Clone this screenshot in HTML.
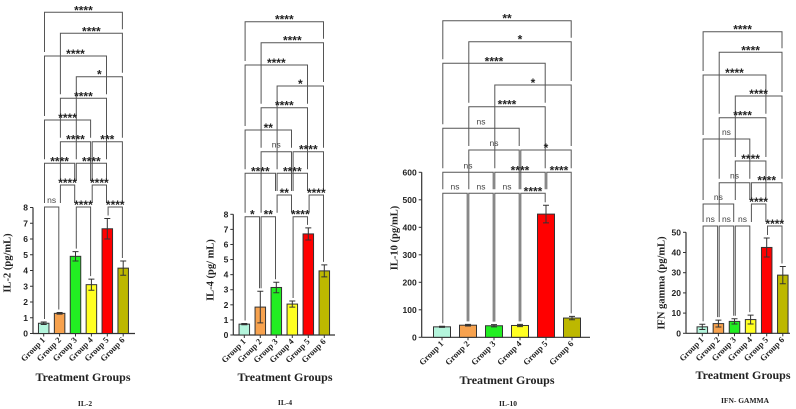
<!DOCTYPE html>
<html><head><meta charset="utf-8">
<style>
html,body{margin:0;padding:0;background:#fff;}
svg{display:block;}
.tk{font-family:"Liberation Sans",sans-serif;font-weight:bold;font-size:8.5px;fill:#222;}
.gl{font-family:"Liberation Serif",serif;font-weight:bold;font-size:8.5px;fill:#222;}
.sig{font-family:"Liberation Sans",sans-serif;font-weight:bold;font-size:12px;fill:#222;}
.ns{font-family:"Liberation Sans",sans-serif;font-size:8.5px;fill:#444;}
.ttl{font-family:"Liberation Serif",serif;font-weight:bold;fill:#222;}
</style></head>
<body>
<svg id="fig" width="796" height="409" viewBox="0 0 796 409" xmlns="http://www.w3.org/2000/svg"></svg>
<script>
const categories = ["Group 1","Group 2","Group 3","Group 4","Group 5","Group 6"];
const colors = ["#b4f5dc","#f7a24e","#22ee22","#ffff22","#ff0000","#bdb800"];

const il2Values = [0.65,1.28,4.9,3.1,6.65,4.15];
const il2Errors = [0.08,0.05,0.3,0.35,0.65,0.45];
const il2Ticks = [0,1,2,3,4,5,6,7,8];
const il2Brackets = [[1,6,12.3,"****"],[2,6,33.3,"****"],[1,5,56,"****"],[3,6,76.7,"*"],[2,5,98.3,"****"],[1,4,120,"****"],[2,4,141.7,"****"],[4,6,141.7,"***"],[1,3,163.3,"****"],[3,5,163.3,"****"],[2,3,185,"****"],[4,5,185,"****"],[1,2,207,"ns"],[3,4,207,"****"],[5,6,207,"****"]];

const il4Values = [0.72,1.85,3.15,2.05,6.7,4.25];
const il4Errors = [0.04,1.05,0.35,0.2,0.4,0.4];
const il4Ticks = [0,1,2,3,4,5,6,7,8];
const il4Brackets = [[1,6,21.7,"****"],[2,6,42.7,"****"],[1,5,65,"****"],[3,6,86,"*"],[2,5,107.7,"****"],[1,4,130,"**"],[2,4,151.7,"ns"],[4,6,151.7,"****"],[1,3,173.3,"****"],[3,5,173.3,"****"],[3,4,195,"**"],[5,6,195,"****"],[1,2,216.7,"*"],[2,3,216.7,"**"],[4,5,216.7,"****"]];

const il10Values = [38,44,42,43,448,70];
const il10Errors = [2,3,4,4,32,6];
const il10Ticks = [0,100,200,300,400,500,600];
const il10Brackets = [[1,6,20.7,"**"],[2,6,41.7,"*"],[1,5,63.3,"****"],[3,6,85,"*"],[2,5,106.7,"****"],[1,4,128.3,"ns"],[2,4,150,"ns"],[4,6,150,"*"],[1,3,172.3,"ns"],[3,5,172.3,"****"],[5,6,172.3,"****"],[1,2,193.3,"ns"],[2,3,193.3,"ns"],[3,4,193.3,"ns"],[4,5,193.3,"****"]];

const ifnValues = [3.2,4.8,5.9,6.8,42.5,28.8];
const ifnErrors = [1.3,1.7,1.3,2.2,4.7,4.3];
const ifnTicks = [0,10,20,30,40,50];
const ifnBrackets = [[1,6,31.7,"****"],[2,6,52.3,"****"],[1,5,75,"****"],[3,6,96,"****"],[2,5,117.7,"****"],[1,4,139,"ns"],[3,5,161,"****"],[2,4,182.7,"ns"],[4,6,182.7,"****"],[1,3,204,"ns"],[4,5,204,"****"],[1,2,226,"ns"],[2,3,226,"ns"],[3,4,226,"ns"],[5,6,226,"****"]];

const NS="http://www.w3.org/2000/svg";
const svg=document.getElementById('fig');
function mk(tag,attrs,parent){const e=document.createElementNS(NS,tag);for(const k in attrs)e.setAttribute(k,attrs[k]);(parent||svg).appendChild(e);return e;}

const panels=[
 {key:"il2",values:il2Values,errors:il2Errors,ticks:il2Ticks,brackets:il2Brackets,axisX:33,y0:333.5,yTop:207.5,max:8,x1:43.7,dx:15.9,bw:10.5,xEnd:135,ytitle:"IL-2 (pg/mL)",ytx:8,yty:263,xtitle:"Treatment Groups",xtx:83,xty:381,title:"IL-2",tx:85,ty:406},
 {key:"il4",values:il4Values,errors:il4Errors,ticks:il4Ticks,brackets:il4Brackets,axisX:233.3,y0:335,yTop:214.3,max:8,x1:244.3,dx:16,bw:10.5,xEnd:335,ytitle:"IL-4 (pg/ mL)",ytx:211,yty:270,xtitle:"Treatment Groups",xtx:285,xty:381,title:"IL-4",tx:285,ty:405},
 {key:"il10",values:il10Values,errors:il10Errors,ticks:il10Ticks,brackets:il10Brackets,axisX:421.7,y0:337.3,yTop:172.3,max:600,x1:442,dx:26,bw:17,xEnd:590,ytitle:"IL-10 (pg/mL)",ytx:395,yty:238,xtitle:"Treatment Groups",xtx:507,xty:384,title:"IL-10",tx:508,ty:406},
 {key:"ifn",values:ifnValues,errors:ifnErrors,ticks:ifnTicks,brackets:ifnBrackets,axisX:686,y0:333.3,yTop:232.3,max:50,x1:702.3,dx:16.1,bw:10.5,xEnd:790,ytitle:"IFN gamma (pg/mL)",ytx:662,yty:283,xtitle:"Treatment Groups",xtx:743,xty:379,title:"IFN- GAMMA",tx:745,ty:403}
];

panels.forEach(p=>{
  const g=mk('g',{});
  
  
  const yS=v=>p.y0-(v/p.max)*(p.y0-p.yTop);
  const xS=i=>p.x1+i*p.dx;
  const ya=mk('line',{x1:p.axisX,y1:p.yTop,x2:p.axisX,y2:p.y0,stroke:"#333","stroke-width":1.2},g);
  
  
  p.ticks.forEach(t=>{
    mk('line',{x1:p.axisX-3,y1:yS(t),x2:p.axisX,y2:yS(t),stroke:"#333","stroke-width":1},g);
    const tt=mk('text',{x:p.axisX-5,y:yS(t)+3,"text-anchor":"end",class:"tk"},g);
    tt.textContent=t;
    
    
  });
  const xa=mk('line',{x1:p.axisX,y1:p.y0,x2:p.xEnd,y2:p.y0,stroke:"#333","stroke-width":1.2},g);
  
  
  p.values.forEach((v,i)=>{
    const x=xS(i), top=yS(v);
    const r=mk('rect',{x:x-p.bw/2,y:top,width:p.bw,height:p.y0-top,fill:colors[i],stroke:"#333","stroke-width":1},g);
    
    
    const e=p.errors[i], hi=yS(v+e), lo=yS(v-e);
    const eb=mk('path',{d:`M${x},${hi}V${lo}M${x-3},${hi}H${x+3}M${x-3},${lo}H${x+3}`,stroke:"#333","stroke-width":1,fill:"none"},g);
    
    
    mk('line',{x1:x,y1:p.y0,x2:x,y2:p.y0+3,stroke:"#333","stroke-width":1},g);
    const lx=x+2, ly=p.y0+7;
    const gl=mk('text',{x:lx,y:ly,"text-anchor":"end",class:"gl",transform:`rotate(-45 ${lx} ${ly})`},g);
    gl.textContent=categories[i];
    
    
  });
  const legBottom=(grp,y)=>{
    let best=null;
    p.brackets.forEach(b=>{ if((b[0]===grp||b[1]===grp)&&b[2]>y&&(best===null||b[2]<best))best=b[2];});
    if(best!==null)return best-4;
    const i=grp-1;return yS(p.values[i]+p.errors[i])-3;
  };
  p.brackets.forEach(b=>{
    const [a,c,y,lab]=b;
    const xa_=xS(a-1)+0.8, xb=xS(c-1)-0.8;
    const br=mk('path',{d:`M${xa_},${legBottom(a,y)}V${y}H${xb}V${legBottom(c,y)}`,stroke:"#555","stroke-width":1,fill:"none"},g);
    
    
    const isNs=lab==="ns";
    const t=mk('text',{x:(xa_+xb)/2,y:isNs?y-4:y+2,"text-anchor":"middle",class:isNs?"ns":"sig"},g);
    t.textContent=lab;
    
    
  });
  const yt=mk('text',{x:p.ytx,y:p.yty,"text-anchor":"middle","font-size":"10.5",class:"ttl",transform:`rotate(-90 ${p.ytx} ${p.yty})`,"dominant-baseline":"middle"},g);
  yt.textContent=p.ytitle;
  
  
  const xt=mk('text',{x:p.xtx,y:p.xty,"text-anchor":"middle","font-size":"12",class:"ttl"},g);
  xt.textContent=p.xtitle;
  
  
  const ti=mk('text',{x:p.tx,y:p.ty,"text-anchor":"middle","font-size":"7.5",class:"ttl"},g);
  ti.textContent=p.title;
  
  
});
</script>
</body></html>
